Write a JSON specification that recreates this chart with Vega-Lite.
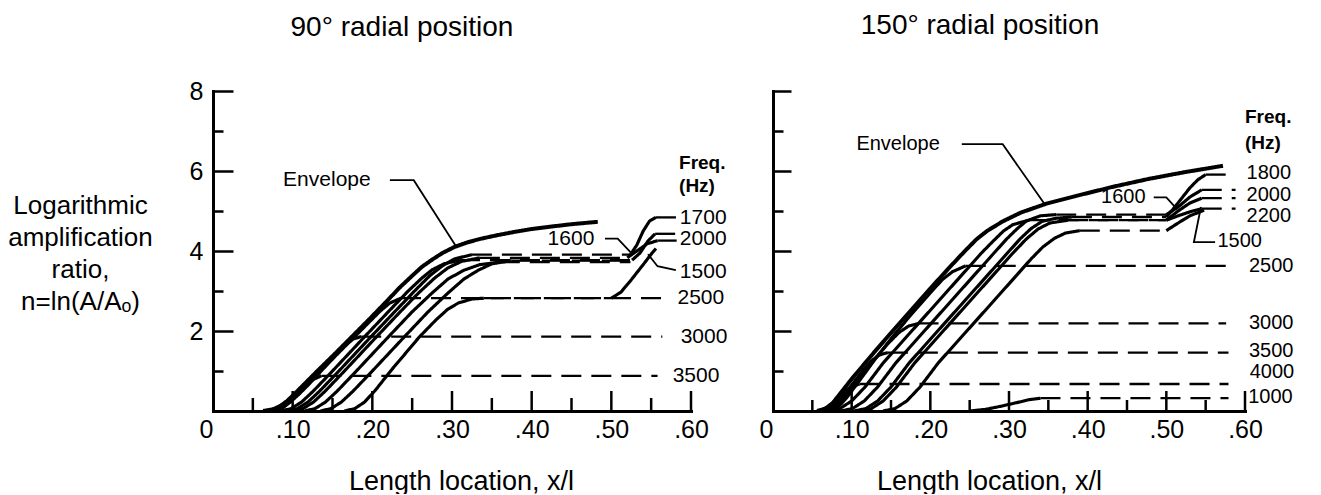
{
  "$schema": "https://vega.github.io/schema/vega-lite/v6.json",
  "background": "white",
  "padding": {"left": 7, "top": 11, "right": 0, "bottom": 0},
  "bounds": "flush",
  "spacing": 82,
  "config": {"view": {"stroke": null}, "font": "Liberation Sans"},
  "datasets": {
    "XM": [{"v":0.1},{"v":0.2},{"v":0.3},{"v":0.4},{"v":0.5},{"v":0.6}],
    "Xm": [{"v":0.05},{"v":0.15},{"v":0.25},{"v":0.35},{"v":0.45},{"v":0.55}],
    "L": [
      {"s":"env","k":"env","x":0.063,"y":0},{"s":"env","k":"env","x":0.075,"y":0.04},{"s":"env","k":"env","x":0.085,"y":0.13},{"s":"env","k":"env","x":0.093,"y":0.25},{"s":"env","k":"env","x":0.1025,"y":0.43},{"s":"env","k":"env","x":0.115,"y":0.68},{"s":"env","k":"env","x":0.132,"y":1.02},{"s":"env","k":"env","x":0.153,"y":1.43},{"s":"env","k":"env","x":0.174,"y":1.85},{"s":"env","k":"env","x":0.195,"y":2.27},{"s":"env","k":"env","x":0.215,"y":2.68},{"s":"env","k":"env","x":0.235,"y":3.1},{"s":"env","k":"env","x":0.25,"y":3.38},{"s":"env","k":"env","x":0.262,"y":3.6},{"s":"env","k":"env","x":0.274,"y":3.77},{"s":"env","k":"env","x":0.288,"y":3.95},{"s":"env","k":"env","x":0.303,"y":4.1},{"s":"env","k":"env","x":0.32,"y":4.22},{"s":"env","k":"env","x":0.337,"y":4.31},{"s":"env","k":"env","x":0.358,"y":4.4},{"s":"env","k":"env","x":0.379,"y":4.48},{"s":"env","k":"env","x":0.4,"y":4.55},{"s":"env","k":"env","x":0.42,"y":4.6},{"s":"env","k":"env","x":0.45,"y":4.67},{"s":"env","k":"env","x":0.483,"y":4.73},
      {"s":"3500a","k":"curve","x":0.066,"y":0},{"s":"3500a","k":"curve","x":0.078,"y":0.06},{"s":"3500a","k":"curve","x":0.09,"y":0.2},{"s":"3500a","k":"curve","x":0.1025,"y":0.41},{"s":"3500a","k":"curve","x":0.115,"y":0.63},{"s":"3500a","k":"curve","x":0.125,"y":0.78},{"s":"3500a","k":"curve","x":0.136,"y":0.88},
      {"s":"3500b","k":"flat","x":0.136,"y":0.88},{"s":"3500b","k":"flat","x":0.558,"y":0.88},
      {"s":"3000a","k":"curve","x":0.07,"y":0},{"s":"3000a","k":"curve","x":0.082,"y":0.06},{"s":"3000a","k":"curve","x":0.093,"y":0.2},{"s":"3000a","k":"curve","x":0.105,"y":0.42},{"s":"3000a","k":"curve","x":0.118,"y":0.7},{"s":"3000a","k":"curve","x":0.132,"y":0.98},{"s":"3000a","k":"curve","x":0.153,"y":1.4},{"s":"3000a","k":"curve","x":0.165,"y":1.63},{"s":"3000a","k":"curve","x":0.176,"y":1.8},{"s":"3000a","k":"curve","x":0.186,"y":1.86},
      {"s":"3000b","k":"flat","x":0.186,"y":1.86},{"s":"3000b","k":"flat","x":0.564,"y":1.86},
      {"s":"2500a","k":"curve","x":0.075,"y":0},{"s":"2500a","k":"curve","x":0.087,"y":0.07},{"s":"2500a","k":"curve","x":0.097,"y":0.22},{"s":"2500a","k":"curve","x":0.108,"y":0.42},{"s":"2500a","k":"curve","x":0.12,"y":0.66},{"s":"2500a","k":"curve","x":0.132,"y":0.92},{"s":"2500a","k":"curve","x":0.153,"y":1.36},{"s":"2500a","k":"curve","x":0.174,"y":1.78},{"s":"2500a","k":"curve","x":0.195,"y":2.2},{"s":"2500a","k":"curve","x":0.21,"y":2.5},{"s":"2500a","k":"curve","x":0.222,"y":2.7},{"s":"2500a","k":"curve","x":0.236,"y":2.82},
      {"s":"2500b","k":"flat","x":0.236,"y":2.82},{"s":"2500b","k":"flat","x":0.574,"y":2.82},
      {"s":"2000a","k":"curve","x":0.085,"y":0},{"s":"2000a","k":"curve","x":0.098,"y":0.06},{"s":"2000a","k":"curve","x":0.111,"y":0.22},{"s":"2000a","k":"curve","x":0.126,"y":0.5},{"s":"2000a","k":"curve","x":0.15,"y":1.0},{"s":"2000a","k":"curve","x":0.19,"y":1.85},{"s":"2000a","k":"curve","x":0.22,"y":2.48},{"s":"2000a","k":"curve","x":0.245,"y":3.0},{"s":"2000a","k":"curve","x":0.262,"y":3.32},{"s":"2000a","k":"curve","x":0.275,"y":3.53},{"s":"2000a","k":"curve","x":0.29,"y":3.68},{"s":"2000a","k":"curve","x":0.31,"y":3.77},
      {"s":"2000b","k":"flat","x":0.31,"y":3.77},{"s":"2000b","k":"flat","x":0.526,"y":3.77},
      {"s":"2000c","k":"curve","x":0.526,"y":3.77},{"s":"2000c","k":"curve","x":0.536,"y":3.95},{"s":"2000c","k":"curve","x":0.546,"y":4.25},{"s":"2000c","k":"curve","x":0.555,"y":4.43},
      {"s":"2000d","k":"flat","x":0.555,"y":4.43},{"s":"2000d","k":"flat","x":0.582,"y":4.43},
      {"s":"1700a","k":"curve","x":0.093,"y":0},{"s":"1700a","k":"curve","x":0.106,"y":0.06},{"s":"1700a","k":"curve","x":0.119,"y":0.22},{"s":"1700a","k":"curve","x":0.134,"y":0.5},{"s":"1700a","k":"curve","x":0.158,"y":1.0},{"s":"1700a","k":"curve","x":0.198,"y":1.85},{"s":"1700a","k":"curve","x":0.228,"y":2.48},{"s":"1700a","k":"curve","x":0.253,"y":3.0},{"s":"1700a","k":"curve","x":0.272,"y":3.38},{"s":"1700a","k":"curve","x":0.288,"y":3.63},{"s":"1700a","k":"curve","x":0.303,"y":3.8},{"s":"1700a","k":"curve","x":0.325,"y":3.91},
      {"s":"1700b","k":"flat","x":0.325,"y":3.91},{"s":"1700b","k":"flat","x":0.524,"y":3.91},
      {"s":"1700c","k":"curve","x":0.524,"y":3.91},{"s":"1700c","k":"curve","x":0.532,"y":4.15},{"s":"1700c","k":"curve","x":0.54,"y":4.5},{"s":"1700c","k":"curve","x":0.548,"y":4.75},{"s":"1700c","k":"curve","x":0.556,"y":4.84},
      {"s":"1700d","k":"flat","x":0.556,"y":4.84},{"s":"1700d","k":"flat","x":0.582,"y":4.84},
      {"s":"1600a","k":"curve","x":0.1,"y":0},{"s":"1600a","k":"curve","x":0.113,"y":0.06},{"s":"1600a","k":"curve","x":0.126,"y":0.22},{"s":"1600a","k":"curve","x":0.141,"y":0.5},{"s":"1600a","k":"curve","x":0.165,"y":1.0},{"s":"1600a","k":"curve","x":0.205,"y":1.85},{"s":"1600a","k":"curve","x":0.235,"y":2.48},{"s":"1600a","k":"curve","x":0.258,"y":2.95},{"s":"1600a","k":"curve","x":0.278,"y":3.32},{"s":"1600a","k":"curve","x":0.295,"y":3.58},{"s":"1600a","k":"curve","x":0.312,"y":3.74},{"s":"1600a","k":"curve","x":0.335,"y":3.83},
      {"s":"1600b","k":"flat","x":0.335,"y":3.83},{"s":"1600b","k":"flat","x":0.52,"y":3.83},
      {"s":"1600c","k":"curve","x":0.52,"y":3.83},{"s":"1600c","k":"curve","x":0.532,"y":4.0},{"s":"1600c","k":"curve","x":0.545,"y":4.18},{"s":"1600c","k":"curve","x":0.558,"y":4.26},
      {"s":"1600d","k":"flat","x":0.558,"y":4.26},{"s":"1600d","k":"flat","x":0.582,"y":4.26},
      {"s":"Da","k":"curve","x":0.115,"y":0},{"s":"Da","k":"curve","x":0.128,"y":0.06},{"s":"Da","k":"curve","x":0.141,"y":0.22},{"s":"Da","k":"curve","x":0.156,"y":0.5},{"s":"Da","k":"curve","x":0.18,"y":1.0},{"s":"Da","k":"curve","x":0.22,"y":1.85},{"s":"Da","k":"curve","x":0.25,"y":2.48},{"s":"Da","k":"curve","x":0.275,"y":2.95},{"s":"Da","k":"curve","x":0.295,"y":3.3},{"s":"Da","k":"curve","x":0.315,"y":3.52},{"s":"Da","k":"curve","x":0.335,"y":3.66},{"s":"Da","k":"curve","x":0.36,"y":3.72},
      {"s":"Db","k":"flat","x":0.36,"y":3.72},{"s":"Db","k":"flat","x":0.524,"y":3.72},
      {"s":"Ea","k":"curve","x":0.135,"y":0},{"s":"Ea","k":"curve","x":0.148,"y":0.06},{"s":"Ea","k":"curve","x":0.161,"y":0.22},{"s":"Ea","k":"curve","x":0.176,"y":0.5},{"s":"Ea","k":"curve","x":0.2,"y":1.0},{"s":"Ea","k":"curve","x":0.24,"y":1.85},{"s":"Ea","k":"curve","x":0.27,"y":2.48},{"s":"Ea","k":"curve","x":0.295,"y":2.95},{"s":"Ea","k":"curve","x":0.315,"y":3.3},{"s":"Ea","k":"curve","x":0.333,"y":3.52},{"s":"Ea","k":"curve","x":0.35,"y":3.68},{"s":"Ea","k":"curve","x":0.375,"y":3.76},
      {"s":"Eb","k":"flat","x":0.375,"y":3.76},{"s":"Eb","k":"flat","x":0.524,"y":3.76},
      {"s":"1500a","k":"curve","x":0.165,"y":0},{"s":"1500a","k":"curve","x":0.178,"y":0.06},{"s":"1500a","k":"curve","x":0.19,"y":0.22},{"s":"1500a","k":"curve","x":0.203,"y":0.5},{"s":"1500a","k":"curve","x":0.225,"y":1.05},{"s":"1500a","k":"curve","x":0.259,"y":1.85},{"s":"1500a","k":"curve","x":0.28,"y":2.28},{"s":"1500a","k":"curve","x":0.295,"y":2.55},{"s":"1500a","k":"curve","x":0.308,"y":2.7},{"s":"1500a","k":"curve","x":0.325,"y":2.8},{"s":"1500a","k":"curve","x":0.34,"y":2.82},
      {"s":"1500b","k":"flat","x":0.34,"y":2.82},{"s":"1500b","k":"flat","x":0.5,"y":2.82},
      {"s":"1500c","k":"curve","x":0.5,"y":2.82},{"s":"1500c","k":"curve","x":0.512,"y":2.97},{"s":"1500c","k":"curve","x":0.525,"y":3.28},{"s":"1500c","k":"curve","x":0.54,"y":3.66},{"s":"1500c","k":"curve","x":0.55,"y":3.92},{"s":"1500c","k":"curve","x":0.556,"y":4.06}
    ],
    "LL": [
      {"s":"e","o":1,"x":0.222,"y":5.77},{"s":"e","o":2,"x":0.252,"y":5.77},{"s":"e","o":3,"x":0.305,"y":4.12},
      {"s":"a","o":1,"x":0.492,"y":4.31},{"s":"a","o":2,"x":0.508,"y":4.31},{"s":"a","o":3,"x":0.524,"y":3.97},
      {"s":"b","o":1,"x":0.581,"y":3.52},{"s":"b","o":2,"x":0.558,"y":3.62},{"s":"b","o":3,"x":0.546,"y":3.92}
    ],
    "LT": [
      {"x":0.088,"y":5.77,"t":"Envelope"},{"x":0.42,"y":4.31,"t":"1600"},{"x":0.586,"y":4.82,"t":"1700"},{"x":0.586,"y":4.3,"t":"2000"},{"x":0.586,"y":3.48,"t":"1500"},{"x":0.583,"y":2.82,"t":"2500"},{"x":0.587,"y":1.86,"t":"3000"},{"x":0.577,"y":0.88,"t":"3500"}
    ],
    "LTB": [
      {"x":0.585,"y":6.2,"t":"Freq."},{"x":0.585,"y":5.63,"t":"(Hz)"}
    ],
    "R": [
      {"s":"env","k":"env","x":0.056,"y":0},{"s":"env","k":"env","x":0.066,"y":0.05},{"s":"env","k":"env","x":0.076,"y":0.2},{"s":"env","k":"env","x":0.088,"y":0.5},{"s":"env","k":"env","x":0.1,"y":0.8},{"s":"env","k":"env","x":0.115,"y":1.15},{"s":"env","k":"env","x":0.13,"y":1.5},{"s":"env","k":"env","x":0.153,"y":2.02},{"s":"env","k":"env","x":0.176,"y":2.53},{"s":"env","k":"env","x":0.199,"y":3.04},{"s":"env","k":"env","x":0.222,"y":3.54},{"s":"env","k":"env","x":0.243,"y":3.98},{"s":"env","k":"env","x":0.258,"y":4.28},{"s":"env","k":"env","x":0.272,"y":4.5},{"s":"env","k":"env","x":0.292,"y":4.74},{"s":"env","k":"env","x":0.315,"y":4.96},{"s":"env","k":"env","x":0.347,"y":5.18},{"s":"env","k":"env","x":0.384,"y":5.37},{"s":"env","k":"env","x":0.431,"y":5.6},{"s":"env","k":"env","x":0.477,"y":5.8},{"s":"env","k":"env","x":0.523,"y":5.97},{"s":"env","k":"env","x":0.572,"y":6.13},
      {"s":"4000a","k":"curve","x":0.058,"y":0},{"s":"4000a","k":"curve","x":0.07,"y":0.1},{"s":"4000a","k":"curve","x":0.08,"y":0.28},{"s":"4000a","k":"curve","x":0.09,"y":0.48},{"s":"4000a","k":"curve","x":0.1,"y":0.61},{"s":"4000a","k":"curve","x":0.11,"y":0.675},
      {"s":"4000b","k":"flat","x":0.11,"y":0.675},{"s":"4000b","k":"flat","x":0.579,"y":0.675},
      {"s":"3500a","k":"curve","x":0.062,"y":0},{"s":"3500a","k":"curve","x":0.074,"y":0.08},{"s":"3500a","k":"curve","x":0.086,"y":0.3},{"s":"3500a","k":"curve","x":0.1,"y":0.65},{"s":"3500a","k":"curve","x":0.113,"y":0.98},{"s":"3500a","k":"curve","x":0.125,"y":1.25},{"s":"3500a","k":"curve","x":0.135,"y":1.4},{"s":"3500a","k":"curve","x":0.146,"y":1.46},
      {"s":"3500b","k":"flat","x":0.146,"y":1.46},{"s":"3500b","k":"flat","x":0.579,"y":1.46},
      {"s":"3000a","k":"curve","x":0.066,"y":0},{"s":"3000a","k":"curve","x":0.078,"y":0.08},{"s":"3000a","k":"curve","x":0.09,"y":0.32},{"s":"3000a","k":"curve","x":0.105,"y":0.7},{"s":"3000a","k":"curve","x":0.125,"y":1.2},{"s":"3000a","k":"curve","x":0.145,"y":1.66},{"s":"3000a","k":"curve","x":0.16,"y":1.96},{"s":"3000a","k":"curve","x":0.172,"y":2.12},{"s":"3000a","k":"curve","x":0.185,"y":2.19},
      {"s":"3000b","k":"flat","x":0.185,"y":2.19},{"s":"3000b","k":"flat","x":0.576,"y":2.19},
      {"s":"2500a","k":"curve","x":0.07,"y":0},{"s":"2500a","k":"curve","x":0.082,"y":0.08},{"s":"2500a","k":"curve","x":0.094,"y":0.34},{"s":"2500a","k":"curve","x":0.11,"y":0.76},{"s":"2500a","k":"curve","x":0.13,"y":1.3},{"s":"2500a","k":"curve","x":0.153,"y":1.88},{"s":"2500a","k":"curve","x":0.176,"y":2.42},{"s":"2500a","k":"curve","x":0.199,"y":2.93},{"s":"2500a","k":"curve","x":0.215,"y":3.28},{"s":"2500a","k":"curve","x":0.228,"y":3.48},{"s":"2500a","k":"curve","x":0.245,"y":3.63},
      {"s":"2500b","k":"flat","x":0.245,"y":3.63},{"s":"2500b","k":"flat","x":0.588,"y":3.63},
      {"s":"2200a","k":"curve","x":0.07,"y":0},{"s":"2200a","k":"curve","x":0.085,"y":0.06},{"s":"2200a","k":"curve","x":0.1,"y":0.25},{"s":"2200a","k":"curve","x":0.117,"y":0.6},{"s":"2200a","k":"curve","x":0.14,"y":1.2},{"s":"2200a","k":"curve","x":0.185,"y":2.19},{"s":"2200a","k":"curve","x":0.215,"y":2.85},{"s":"2200a","k":"curve","x":0.245,"y":3.51},{"s":"2200a","k":"curve","x":0.265,"y":3.95},{"s":"2200a","k":"curve","x":0.28,"y":4.25},{"s":"2200a","k":"curve","x":0.293,"y":4.5},{"s":"2200a","k":"curve","x":0.305,"y":4.66},{"s":"2200a","k":"curve","x":0.325,"y":4.77},
      {"s":"2200b","k":"flat","x":0.325,"y":4.77},{"s":"2200b","k":"flat","x":0.5,"y":4.77},
      {"s":"2200c","k":"curve","x":0.5,"y":4.77},{"s":"2200c","k":"curve","x":0.515,"y":4.88},{"s":"2200c","k":"curve","x":0.53,"y":4.98},{"s":"2200c","k":"curve","x":0.545,"y":5.06},
      {"s":"2200d","k":"flat","x":0.545,"y":5.06},{"s":"2200d","k":"flat","x":0.588,"y":5.06},
      {"s":"2000a","k":"curve","x":0.086,"y":0},{"s":"2000a","k":"curve","x":0.101,"y":0.06},{"s":"2000a","k":"curve","x":0.116,"y":0.25},{"s":"2000a","k":"curve","x":0.133,"y":0.6},{"s":"2000a","k":"curve","x":0.156,"y":1.2},{"s":"2000a","k":"curve","x":0.201,"y":2.19},{"s":"2000a","k":"curve","x":0.231,"y":2.85},{"s":"2000a","k":"curve","x":0.261,"y":3.51},{"s":"2000a","k":"curve","x":0.281,"y":3.95},{"s":"2000a","k":"curve","x":0.297,"y":4.3},{"s":"2000a","k":"curve","x":0.31,"y":4.55},{"s":"2000a","k":"curve","x":0.322,"y":4.75},{"s":"2000a","k":"curve","x":0.34,"y":4.88},{"s":"2000a","k":"curve","x":0.36,"y":4.91},
      {"s":"2000b","k":"flat","x":0.36,"y":4.91},{"s":"2000b","k":"flat","x":0.5,"y":4.91},
      {"s":"2000c","k":"curve","x":0.5,"y":4.91},{"s":"2000c","k":"curve","x":0.515,"y":5.1},{"s":"2000c","k":"curve","x":0.53,"y":5.35},{"s":"2000c","k":"curve","x":0.545,"y":5.53},
      {"s":"2000d","k":"flat","x":0.545,"y":5.53},{"s":"2000d","k":"flat","x":0.588,"y":5.53},
      {"s":"1800a","k":"curve","x":0.103,"y":0},{"s":"1800a","k":"curve","x":0.118,"y":0.06},{"s":"1800a","k":"curve","x":0.133,"y":0.25},{"s":"1800a","k":"curve","x":0.15,"y":0.6},{"s":"1800a","k":"curve","x":0.173,"y":1.2},{"s":"1800a","k":"curve","x":0.218,"y":2.19},{"s":"1800a","k":"curve","x":0.248,"y":2.85},{"s":"1800a","k":"curve","x":0.278,"y":3.51},{"s":"1800a","k":"curve","x":0.298,"y":3.95},{"s":"1800a","k":"curve","x":0.314,"y":4.3},{"s":"1800a","k":"curve","x":0.328,"y":4.56},{"s":"1800a","k":"curve","x":0.342,"y":4.74},{"s":"1800a","k":"curve","x":0.36,"y":4.82},{"s":"1800a","k":"curve","x":0.38,"y":4.85},
      {"s":"1800b","k":"flat","x":0.38,"y":4.85},{"s":"1800b","k":"flat","x":0.5,"y":4.85},
      {"s":"1800c","k":"curve","x":0.5,"y":4.85},{"s":"1800c","k":"curve","x":0.51,"y":5.08},{"s":"1800c","k":"curve","x":0.52,"y":5.33},{"s":"1800c","k":"curve","x":0.53,"y":5.58},{"s":"1800c","k":"curve","x":0.54,"y":5.78},{"s":"1800c","k":"curve","x":0.55,"y":5.91},
      {"s":"1800d","k":"flat","x":0.55,"y":5.91},{"s":"1800d","k":"flat","x":0.588,"y":5.91},
      {"s":"1600a","k":"curve","x":0.11,"y":0},{"s":"1600a","k":"curve","x":0.125,"y":0.06},{"s":"1600a","k":"curve","x":0.14,"y":0.25},{"s":"1600a","k":"curve","x":0.157,"y":0.6},{"s":"1600a","k":"curve","x":0.18,"y":1.2},{"s":"1600a","k":"curve","x":0.225,"y":2.19},{"s":"1600a","k":"curve","x":0.255,"y":2.85},{"s":"1600a","k":"curve","x":0.285,"y":3.51},{"s":"1600a","k":"curve","x":0.305,"y":3.95},{"s":"1600a","k":"curve","x":0.322,"y":4.3},{"s":"1600a","k":"curve","x":0.337,"y":4.55},{"s":"1600a","k":"curve","x":0.352,"y":4.7},{"s":"1600a","k":"curve","x":0.375,"y":4.77},
      {"s":"1600b","k":"flat","x":0.375,"y":4.77},{"s":"1600b","k":"flat","x":0.5,"y":4.77},
      {"s":"1600c","k":"curve","x":0.5,"y":4.77},{"s":"1600c","k":"curve","x":0.515,"y":5.0},{"s":"1600c","k":"curve","x":0.53,"y":5.2},{"s":"1600c","k":"curve","x":0.545,"y":5.32},
      {"s":"1600d","k":"flat","x":0.545,"y":5.32},{"s":"1600d","k":"flat","x":0.588,"y":5.32},
      {"s":"1500a","k":"curve","x":0.14,"y":0},{"s":"1500a","k":"curve","x":0.155,"y":0.06},{"s":"1500a","k":"curve","x":0.17,"y":0.25},{"s":"1500a","k":"curve","x":0.187,"y":0.6},{"s":"1500a","k":"curve","x":0.21,"y":1.2},{"s":"1500a","k":"curve","x":0.255,"y":2.19},{"s":"1500a","k":"curve","x":0.285,"y":2.85},{"s":"1500a","k":"curve","x":0.31,"y":3.4},{"s":"1500a","k":"curve","x":0.328,"y":3.8},{"s":"1500a","k":"curve","x":0.343,"y":4.1},{"s":"1500a","k":"curve","x":0.358,"y":4.32},{"s":"1500a","k":"curve","x":0.372,"y":4.45},{"s":"1500a","k":"curve","x":0.39,"y":4.51},
      {"s":"1500b","k":"flat","x":0.39,"y":4.51},{"s":"1500b","k":"flat","x":0.5,"y":4.51},
      {"s":"1500c","k":"curve","x":0.5,"y":4.51},{"s":"1500c","k":"curve","x":0.515,"y":4.7},{"s":"1500c","k":"curve","x":0.53,"y":4.88},{"s":"1500c","k":"curve","x":0.548,"y":5.02},
      {"s":"1000a","k":"curve","x":0.25,"y":0},{"s":"1000a","k":"curve","x":0.27,"y":0.04},{"s":"1000a","k":"curve","x":0.29,"y":0.12},{"s":"1000a","k":"curve","x":0.31,"y":0.21},{"s":"1000a","k":"curve","x":0.325,"y":0.28},{"s":"1000a","k":"curve","x":0.34,"y":0.32},
      {"s":"1000b","k":"flat","x":0.34,"y":0.32},{"s":"1000b","k":"flat","x":0.579,"y":0.32}
    ],
    "RL": [
      {"s":"e","o":1,"x":0.24,"y":6.67},{"s":"e","o":2,"x":0.292,"y":6.67},{"s":"e","o":3,"x":0.345,"y":5.18},
      {"s":"a","o":1,"x":0.484,"y":5.34},{"s":"a","o":2,"x":0.5,"y":5.34},{"s":"a","o":3,"x":0.513,"y":5.06},
      {"s":"b","o":1,"x":0.544,"y":5.1},{"s":"b","o":2,"x":0.535,"y":4.22},{"s":"b","o":3,"x":0.562,"y":4.22}
    ],
    "RT": [
      {"x":0.106,"y":6.67,"t":"Envelope"},{"x":0.417,"y":5.34,"t":"1600"},{"x":0.602,"y":5.94,"t":"1800"},{"x":0.602,"y":5.41,"t":"2000"},{"x":0.602,"y":4.88,"t":"2200"},{"x":0.565,"y":4.24,"t":"1500"},{"x":0.605,"y":3.63,"t":"2500"},{"x":0.605,"y":2.19,"t":"3000"},{"x":0.605,"y":1.5,"t":"3500"},{"x":0.606,"y":0.98,"t":"4000"},{"x":0.604,"y":0.34,"t":"1000"}
    ],
    "RTB": [
      {"x":0.6,"y":7.36,"t":"Freq."},{"x":0.6,"y":6.69,"t":"(Hz)"}
    ]
  },
  "hconcat": [
    {
      "width": 478,
      "height": 320,
      "title": {"text": "90° radial position", "fontSize": 28, "fontWeight": "normal", "font": "Liberation Sans", "color": "black", "offset": 37, "dx": -50, "anchor": "middle"},
      "resolve": {"axis": {"x": "independent", "y": "independent"}},
      "layer": [
        {
          "data": {"name": "L"},
          "mark": {"type": "line", "color": "black", "strokeCap": "butt", "strokeJoin": "round"},
          "encoding": {
            "x": {"field": "x", "type": "quantitative", "scale": {"domain": [0, 0.6], "nice": false, "zero": false},
              "axis": {"orient": "bottom", "title": "Length location, x/l", "values": [0,0.1,0.2,0.3,0.4,0.5,0.6],
                "labelExpr": "datum.value === 0 ? '0' : replace(format(datum.value, '.2f'), '0.', '.')",
                "labelAlign": {"condition": {"test": "datum.value === 0", "value": "right"}, "value": "center"},
                "labelFlush": false, "labelOverlap": false, "labelBound": false,
                "labelFontSize": 25, "labelColor": "black", "labelFont": "Liberation Sans", "labelPadding": 6,
                "ticks": false,
                "domainWidth": 3, "domainColor": "black", "domainCap": "square", "grid": false,
                "titleFontSize": 27, "titleFontWeight": "normal", "titleColor": "black", "titleFont": "Liberation Sans",
                "titleX": 248, "titleY": 78, "titleBaseline": "alphabetic", "titleAlign": "center"}},
            "y": {"field": "y", "type": "quantitative", "scale": {"domain": [0, 8], "nice": false},
              "axis": {"orient": "left", "values": [2,4,6,8],
                "labelFlush": false, "labelOverlap": false, "labelBound": false,
                "labelFontSize": 25, "labelColor": "black", "labelFont": "Liberation Sans", "labelPadding": 30,
                "ticks": true, "tickSize": -20,
                "tickWidth": 2.5, "tickColor": "black", "tickOpacity": 1, "domainWidth": 3, "domainColor": "black", "domainCap": "square", "grid": false,
                "title": ["Logarithmic", "amplification", "ratio,", "n=ln(A/Aₒ)"],
                "titleAngle": 0, "titleAlign": "center", "titleBaseline": "top", "titleX": -133, "titleY": 101,
                "titleFontSize": 26, "titleFontWeight": "normal", "titleColor": "black", "titleFont": "Liberation Sans", "titleLineHeight": 32}},
            "detail": {"field": "s"},
            "strokeDash": {"field": "k", "type": "nominal", "scale": {"domain": ["env","curve","flat"], "range": [[1,0],[1,0],[20,10]]}, "legend": null},
            "strokeWidth": {"field": "k", "type": "nominal", "scale": {"domain": ["env","curve","flat"], "range": [4,2.3,2.5]}, "legend": null}
          }
        },
        {
          "data": {"name": "LL"},
          "mark": {"type": "line", "color": "black", "strokeWidth": 1.8},
          "encoding": {
            "x": {"field": "x", "type": "quantitative", "scale": {"domain": [0, 0.6], "nice": false, "zero": false}, "axis": null},
            "y": {"field": "y", "type": "quantitative", "scale": {"domain": [0, 8], "nice": false},
              "axis": {"orient": "left", "values": [1,3,5,7], "labels": false, "domain": false, "grid": false, "title": null, "ticks": true, "tickSize": -10, "tickWidth": 2.5, "tickColor": "black", "tickOpacity": 1}},
            "detail": {"field": "s"},
            "order": {"field": "o"}
          }
        },
        {
          "data": {"name": "XM"},
          "mark": {"type": "tick", "orient": "vertical", "size": 20, "thickness": 2.5, "yOffset": -10, "color": "black", "opacity": 1},
          "encoding": {
            "x": {"field": "v", "type": "quantitative", "axis": null},
            "y": {"datum": 0, "type": "quantitative", "axis": null}
          }
        },
        {
          "data": {"name": "Xm"},
          "mark": {"type": "tick", "orient": "vertical", "size": 13, "thickness": 2.5, "yOffset": -6.5, "color": "black", "opacity": 1},
          "encoding": {
            "x": {"field": "v", "type": "quantitative", "axis": null},
            "y": {"datum": 0, "type": "quantitative", "axis": null}
          }
        },
        {
          "data": {"name": "LT"},
          "mark": {"type": "text", "align": "left", "baseline": "middle", "fontSize": 21, "font": "Liberation Sans", "color": "black"},
          "encoding": {
            "x": {"field": "x", "type": "quantitative", "axis": null},
            "y": {"field": "y", "type": "quantitative", "axis": null},
            "text": {"field": "t"}
          }
        },
        {
          "data": {"name": "LTB"},
          "mark": {"type": "text", "align": "left", "baseline": "middle", "fontSize": 19, "fontWeight": "bold", "font": "Liberation Sans", "color": "black"},
          "encoding": {
            "x": {"field": "x", "type": "quantitative", "axis": null},
            "y": {"field": "y", "type": "quantitative", "axis": null},
            "text": {"field": "t"}
          }
        }
      ]
    },
    {
      "width": 472,
      "height": 320,
      "title": {"text": "150° radial position", "fontSize": 28, "fontWeight": "normal", "font": "Liberation Sans", "color": "black", "offset": 50, "dx": -29, "anchor": "middle"},
      "resolve": {"axis": {"x": "independent", "y": "independent"}},
      "layer": [
        {
          "data": {"name": "R"},
          "mark": {"type": "line", "color": "black", "strokeCap": "butt", "strokeJoin": "round"},
          "encoding": {
            "x": {"field": "x", "type": "quantitative", "scale": {"domain": [0, 0.6], "nice": false, "zero": false},
              "axis": {"orient": "bottom", "title": "Length location, x/l", "values": [0,0.1,0.2,0.3,0.4,0.5,0.6],
                "labelExpr": "datum.value === 0 ? '0' : replace(format(datum.value, '.2f'), '0.', '.')",
                "labelAlign": {"condition": {"test": "datum.value === 0", "value": "right"}, "value": "center"},
                "labelFlush": false, "labelOverlap": false, "labelBound": false,
                "labelFontSize": 25, "labelColor": "black", "labelFont": "Liberation Sans", "labelPadding": 6,
                "ticks": false,
                "domainWidth": 3, "domainColor": "black", "domainCap": "square", "grid": false,
                "titleFontSize": 27, "titleFontWeight": "normal", "titleColor": "black", "titleFont": "Liberation Sans",
                "titleX": 216, "titleY": 78, "titleBaseline": "alphabetic", "titleAlign": "center"}},
            "y": {"field": "y", "type": "quantitative", "scale": {"domain": [0, 8], "nice": false},
              "axis": {"orient": "left", "values": [2,4,6,8], "labels": false, "title": null,
                "ticks": true, "tickSize": -18,
                "tickWidth": 2.5, "tickColor": "black", "tickOpacity": 1, "domainWidth": 3, "domainColor": "black", "domainCap": "square", "grid": false}},
            "detail": {"field": "s"},
            "strokeDash": {"field": "k", "type": "nominal", "scale": {"domain": ["env","curve","flat"], "range": [[1,0],[1,0],[18,9]]}, "legend": null},
            "strokeWidth": {"field": "k", "type": "nominal", "scale": {"domain": ["env","curve","flat"], "range": [4,2.3,2.5]}, "legend": null}
          }
        },
        {
          "data": {"name": "RL"},
          "mark": {"type": "line", "color": "black", "strokeWidth": 1.8},
          "encoding": {
            "x": {"field": "x", "type": "quantitative", "scale": {"domain": [0, 0.6], "nice": false, "zero": false}, "axis": null},
            "y": {"field": "y", "type": "quantitative", "scale": {"domain": [0, 8], "nice": false},
              "axis": {"orient": "left", "values": [1,3,5,7], "labels": false, "domain": false, "grid": false, "title": null, "ticks": true, "tickSize": -10, "tickWidth": 2.5, "tickColor": "black", "tickOpacity": 1}},
            "detail": {"field": "s"},
            "order": {"field": "o"}
          }
        },
        {
          "data": {"name": "XM"},
          "mark": {"type": "tick", "orient": "vertical", "size": 20, "thickness": 2.5, "yOffset": -10, "color": "black", "opacity": 1},
          "encoding": {
            "x": {"field": "v", "type": "quantitative", "axis": null},
            "y": {"datum": 0, "type": "quantitative", "axis": null}
          }
        },
        {
          "data": {"name": "Xm"},
          "mark": {"type": "tick", "orient": "vertical", "size": 11, "thickness": 2.5, "yOffset": -5.5, "color": "black", "opacity": 1},
          "encoding": {
            "x": {"field": "v", "type": "quantitative", "axis": null},
            "y": {"datum": 0, "type": "quantitative", "axis": null}
          }
        },
        {
          "data": {"name": "RT"},
          "mark": {"type": "text", "align": "left", "baseline": "middle", "fontSize": 20, "font": "Liberation Sans", "color": "black"},
          "encoding": {
            "x": {"field": "x", "type": "quantitative", "axis": null},
            "y": {"field": "y", "type": "quantitative", "axis": null},
            "text": {"field": "t"}
          }
        },
        {
          "data": {"name": "RTB"},
          "mark": {"type": "text", "align": "left", "baseline": "middle", "fontSize": 19, "fontWeight": "bold", "font": "Liberation Sans", "color": "black"},
          "encoding": {
            "x": {"field": "x", "type": "quantitative", "axis": null},
            "y": {"field": "y", "type": "quantitative", "axis": null},
            "text": {"field": "t"}
          }
        }
      ]
    }
  ]
}
